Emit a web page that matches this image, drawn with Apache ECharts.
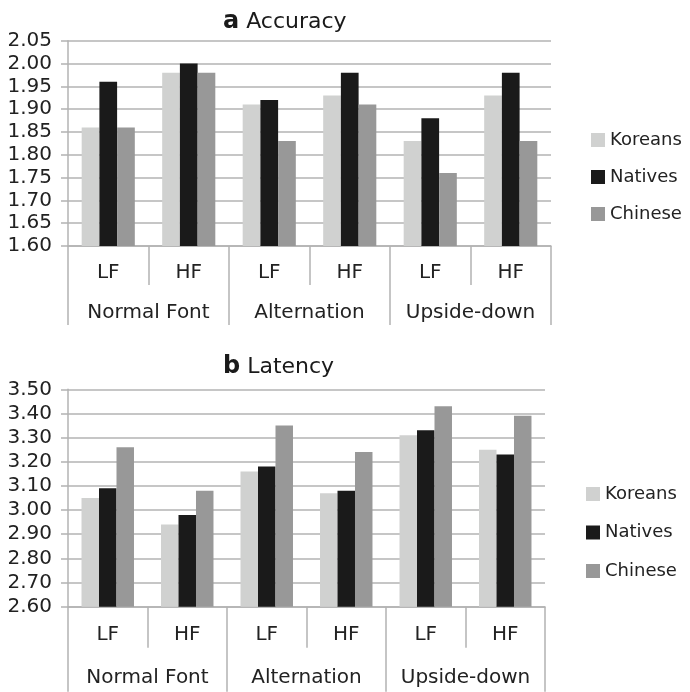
<!DOCTYPE html>
<html>
<head>
<meta charset="utf-8">
<script src="https://cdn.jsdelivr.net/npm/echarts@6/dist/echarts.min.js"></script>
<style>
html,body{margin:0;padding:0;background:#fff;}
#chart{width:690px;height:692px;}
</style>
</head>
<body>
<div id="chart"></div>
<script>
// Conditions (LF/HF within each font condition)
const frequencies = ['LF', 'HF', 'LF', 'HF', 'LF', 'HF'];
const fontGroups = ['Normal Font', 'Alternation', 'Upside-down'];
const seriesNames = ['Koreans', 'Natives', 'Chinese'];

// (a) Accuracy
const accKoreans = [1.86, 1.98, 1.91, 1.93, 1.83, 1.93];
const accNatives = [1.96, 2.00, 1.92, 1.98, 1.88, 1.98];
const accChinese = [1.86, 1.98, 1.83, 1.91, 1.76, 1.83];

// (b) Latency
const latKoreans = [3.05, 2.94, 3.16, 3.07, 3.31, 3.25];
const latNatives = [3.09, 2.98, 3.18, 3.08, 3.33, 3.23];
const latChinese = [3.26, 3.08, 3.35, 3.24, 3.43, 3.39];

const colors = ['#d0d1d0', '#1a1a1a', '#989898'];
const lineColor = '#b3b3b3';
const textColor = '#222';
const fontFamily = 'DejaVu Sans';

function yAxis(gridIndex, min, max, interval) {
  return {
    type: 'value', gridIndex, min, max, interval,
    axisLine: {show: true, lineStyle: {color: lineColor, width: 1.5}},
    axisTick: {show: true, length: 7, lineStyle: {color: lineColor, width: 1.5}},
    splitLine: {show: true, lineStyle: {color: lineColor, width: 1.5}},
    axisLabel: {
      color: textColor, fontSize: 20, fontFamily, margin: 16,
      formatter: v => v.toFixed(2)
    }
  };
}

function xAxes(gridIndex, smallTick, bigTick, smallMargin, bigMargin) {
  return [
    {
      type: 'category', gridIndex, data: frequencies, position: 'bottom',
      axisLine: {show: true, lineStyle: {color: lineColor, width: 1.5}},
      axisTick: {show: true, interval: 0, length: smallTick, lineStyle: {color: lineColor, width: 1.5}},
      axisLabel: {color: textColor, fontSize: 20, fontFamily, margin: smallMargin, interval: 0}
    },
    {
      type: 'category', gridIndex, data: fontGroups, position: 'bottom',
      axisLine: {show: false},
      axisTick: {show: true, interval: 0, length: bigTick, lineStyle: {color: lineColor, width: 1.5}},
      axisLabel: {color: textColor, fontSize: 20, fontFamily, margin: bigMargin, interval: 0}
    }
  ];
}

function bars(values, xAxisIndex, yAxisIndex) {
  return values.map((vals, i) => ({
    name: seriesNames[i], type: 'bar', xAxisIndex, yAxisIndex,
    data: vals, barGap: '0%', barCategoryGap: '34%',
    itemStyle: {color: colors[i]}
  }));
}

function legend(left, top, gap) {
  return {
    orient: 'vertical', left, top, data: seriesNames,
    itemWidth: 14, itemHeight: 14, itemGap: gap, padding: 0,
    icon: 'rect',
    textStyle: {color: textColor, fontSize: 18, fontFamily}
  };
}

function title(letter, text, top) {
  return {
    text: '{b|' + letter + '} ' + text, left: 223, top, padding: 0,
    textStyle: {
      color: '#1a1a1a', fontSize: 22, fontWeight: 'normal', fontFamily,
      rich: {b: {fontSize: 24, fontWeight: 'bold', fontFamily, color: '#1a1a1a'}}
    }
  };
}

const chart = echarts.init(document.getElementById('chart'));
chart.setOption({
  animation: false,
  backgroundColor: '#fff',
  title: [title('a', 'Accuracy', 10), title('b', 'Latency', 355)],
  legend: [legend(591, 131, 19), legend(586, 485, 20.5)],
  grid: [
    {left: 68, top: 40.7, width: 483, height: 205.3, containLabel: false},
    {left: 68, top: 389.3, width: 477, height: 217.4, containLabel: false}
  ],
  xAxis: [
    ...xAxes(0, 39, 79, 17, 57),
    ...xAxes(1, 41, 85, 18, 61)
  ],
  yAxis: [
    yAxis(0, 1.6, 2.05, 0.05),
    yAxis(1, 2.6, 3.5, 0.1)
  ],
  series: [
    ...bars([accKoreans, accNatives, accChinese], 0, 0),
    ...bars([latKoreans, latNatives, latChinese], 2, 1)
  ]
});
</script>
</body>
</html>
